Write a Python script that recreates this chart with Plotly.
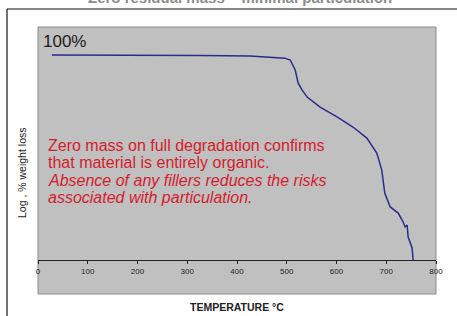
import plotly.graph_objects as go

temperature = [28, 125, 225, 326, 426, 466, 496, 507, 517, 523, 531, 541, 567, 601, 633, 661, 681, 691, 697, 708, 724, 734, 738, 742, 744, 752, 754]
log_weight = [100, 100, 100, 99.8, 99.5, 98.9, 98.5, 97.6, 92.7, 86.3, 82.9, 79.5, 74.6, 69.8, 64.9, 59.5, 52.2, 43.9, 32.7, 25.9, 22.9, 18.5, 16.1, 17.1, 11.2, 5.9, 0]
x_ticks = [0, 100, 200, 300, 400, 500, 600, 700, 800]
note_lines = [
    "Zero mass on full degradation confirms",
    "that material is entirely organic.",
    "<i>Absence of any fillers reduces the risks</i>",
    "<i>associated with particulation.</i>",
]

W, H = 457, 316
L, R, T, B = 38, 21, 27, 56
pw, ph = W - L - R, H - T - B

def px(xp):
    return (xp - L) / pw

def py(yp):
    return 1 - (yp - T) / ph

fig = go.Figure()
fig.add_trace(go.Scatter(x=temperature, y=log_weight, mode="lines",
                         line=dict(color="#2b2b8c", width=1.5), showlegend=False, hoverinfo="skip"))

annotations = [
    dict(text="<b>Zero residual mass – minimal particulation</b>", xref="paper", yref="paper",
         x=px(240), y=py(8), xanchor="center", yanchor="bottom", showarrow=False,
         font=dict(size=15, color="#8c8c8c")),
    dict(text="100%", xref="paper", yref="paper", x=px(41), y=py(42), xanchor="left",
         yanchor="middle", showarrow=False, font=dict(size=17, color="#1a1a1a")),
    dict(text="Log , % weight loss", xref="paper", yref="paper", x=px(22), y=py(173),
         xanchor="center", yanchor="middle", textangle=-90, showarrow=False,
         font=dict(size=10.5, color="#222")),
    dict(text="<b>TEMPERATURE °C</b>", xref="paper", yref="paper", x=px(237), y=py(307),
         xanchor="center", yanchor="middle", showarrow=False, font=dict(size=10.5, color="#222")),
]
for i, line in enumerate(note_lines):
    annotations.append(dict(text=line, xref="paper", yref="paper", x=px(46), y=py(145 + 17.6 * i),
                            xanchor="left", yanchor="middle", showarrow=False,
                            font=dict(size=16, color="#d41c2c")))

fig.update_layout(
    width=W, height=H,
    margin=dict(l=L, r=R, t=T, b=B),
    paper_bgcolor="white",
    plot_bgcolor="rgba(0,0,0,0)",
    font=dict(family="Liberation Sans, Arial", color="#222"),
    xaxis=dict(range=[0, 800], tickvals=x_ticks, ticktext=[str(v) for v in x_ticks],
               showgrid=False, zeroline=False, showline=True, linecolor="#222", linewidth=1,
               ticks="outside", ticklen=3, tickcolor="#222", tickfont=dict(size=8, color="#222")),
    yaxis=dict(range=[0, 113.7], showticklabels=False, showgrid=False, zeroline=False,
               showline=False, ticks=""),
    shapes=[
        dict(type="rect", xref="paper", yref="paper", x0=0, x1=1, y0=py(294), y1=1,
             fillcolor="#c0c0c0", line=dict(color="#8a8a8a", width=1), layer="below"),
        dict(type="line", xref="paper", yref="paper", x0=px(7), x1=px(7), y0=py(9), y1=py(320),
             line=dict(color="#111", width=1.2)),
        dict(type="line", xref="paper", yref="paper", x0=px(7), x1=px(460), y0=py(9), y1=py(9),
             line=dict(color="#111", width=1.2)),
    ],
    annotations=annotations,
)

fig.write_html("out.html", config={"displayModeBar": False},
               post_script="document.body.style.margin='0';")
